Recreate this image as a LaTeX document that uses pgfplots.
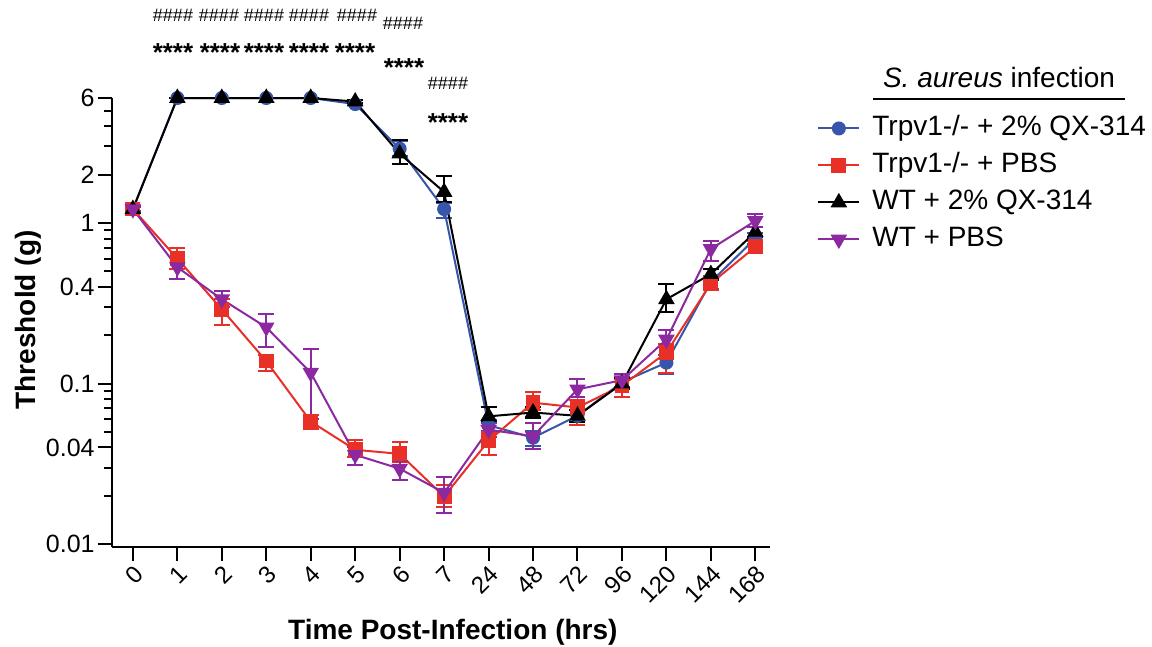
\documentclass[border=0pt]{standalone}
\usepackage{fontspec}
\setmainfont{Liberation Sans}
\usepackage{pgfplots}
\usepackage{pgfplotstable}
\pgfplotsset{compat=1.18}
\definecolor{cblue}{RGB}{55,85,170}
\definecolor{cred}{RGB}{232,48,38}
\definecolor{cpurple}{RGB}{140,40,160}

\pgfplotstableread{
x y ep em
0 1.22 0.05 0.05
1 6 0 0
2 6 0 0
3 6 0 0
4 6 0 0
5 5.5 0.1 0.1
6 2.9 0.35 0.3
7 1.22 0.12 0.15
8 0.055 0.004 0.004
9 0.046 0.005 0.005
10 0.063 0.005 0.005
11 0.102 0.008 0.008
12 0.135 0.015 0.02
13 0.43 0.04 0.04
14 0.80 0.06 0.06
}\tblue

\pgfplotstableread{
x y ep em
0 1.22 0.04 0.04
1 0.60 0.10 0.08
2 0.29 0.045 0.06
3 0.138 0.012 0.018
4 0.058 0.006 0.006
5 0.0387 0.006 0.004
6 0.0365 0.0065 0.004
7 0.0198 0.0036 0.0028
8 0.044 0.006 0.008
9 0.076 0.013 0.008
10 0.071 0.008 0.016
11 0.097 0.010 0.015
12 0.156 0.020 0.040
13 0.42 0.03 0.04
14 0.71 0.06 0.06
}\tred

\pgfplotstableread{
x y ep em
0 1.22 0.03 0.03
1 6 0 0
2 6 0 0
3 6 0 0
4 6 0 0
5 5.7 0.1 0.1
6 2.7 0.6 0.37
7 1.56 0.41 0.2
8 0.0625 0.0085 0.005
9 0.066 0.005 0.005
10 0.063 0.005 0.005
11 0.100 0.008 0.008
12 0.335 0.08 0.055
13 0.48 0.04 0.04
14 0.88 0.06 0.06
}\tblack

\pgfplotstableread{
x y ep em
0 1.22 0.03 0.03
1 0.53 0.08 0.08
2 0.335 0.04 0.035
3 0.224 0.046 0.056
4 0.117 0.046 0.057
5 0.036 0.004 0.005
6 0.0295 0.0035 0.0045
7 0.0209 0.0054 0.0053
8 0.0516 0.005 0.005
9 0.047 0.010 0.008
10 0.092 0.014 0.010
11 0.105 0.010 0.010
12 0.188 0.029 0.020
13 0.69 0.08 0.11
14 1.03 0.11 0.08
}\tpurple

\begin{document}
\begin{tikzpicture}
\path[use as bounding box] (0,0) rectangle (576pt,323.5pt);
\begin{axis}[
  at={(56pt,50pt)}, anchor=south west,
  scale only axis, width=329pt, height=224.5pt,
  ymode=log, ymin=0.0096, ymax=6,
  xmin=-0.47, xmax=14.33,
  axis x line*=bottom, axis y line*=left,
  axis line style={line width=1pt, -},
  tick align=outside,
  major tick length=7pt, minor tick length=4pt,
  every tick/.style={black, line width=1pt},
  xtick={0,...,14},
  xticklabels={0,1,2,3,4,5,6,7,24,48,72,96,120,144,168},
  x tick label style={rotate=45, anchor=north east, font=\fontsize{12}{13}\selectfont, inner sep=1pt},
  ytick={0.01,0.04,0.1,0.4,1,2,6},
  yticklabels={0.01,0.04,0.1,0.4,1,2,6},
  minor ytick={0.02,0.03,0.05,0.06,0.07,0.08,0.09,0.2,0.3,0.5,0.6,0.7,0.8,0.9,3,4,5},
  y tick label style={font=\fontsize{12.5}{14}\selectfont, inner xsep=1.5pt},
  xlabel={Time Post-Infection (hrs)},
  ylabel={Threshold (g)},
  label style={font=\bfseries\fontsize{14}{16}\selectfont},
  xlabel style={at={(axis description cs:0.518,-0.189)}, anchor=center},
  ylabel style={at={(axis description cs:-0.1277,0.5056)}, anchor=center},
  clip=false,
  legend cell align=left,
  legend style={at={(1.0714,0.962)}, anchor=north west, draw=none, fill=none,
    inner sep=0pt, font=\fontsize{14}{16}\selectfont, column sep=6pt,
    nodes={inner sep=0pt, text height=10pt, text depth=3pt}, row sep=5.5pt},
  legend image code/.code={\draw[mark repeat=2,mark phase=2,#1] plot coordinates {(0cm,0cm) (0.36cm,0cm) (0.72cm,0cm)};},
  error bars/y dir=both, error bars/y explicit,
  error bars/error mark options={rotate=90, mark size=4pt, line width=1pt},
]
\addplot[cblue, line width=1pt, mark=*, mark size=3pt, mark options={solid, fill=cblue},
  error bars/error bar style={line width=1pt, cblue}]
  table[x=x, y=y, y error plus=ep, y error minus=em]{\tblue};
\addlegendentry{Trpv1-/- + 2\% QX-314}
\addplot[cred, line width=1pt, mark=square*, mark size=3.2pt, mark options={solid, fill=cred},
  error bars/error bar style={line width=1pt, cred}]
  table[x=x, y=y, y error plus=ep, y error minus=em]{\tred};
\addlegendentry{Trpv1-/- + PBS}
\addplot[black, line width=1pt, mark=triangle*, mark size=3.8pt, mark options={solid, fill=black},
  error bars/error bar style={line width=1pt, black}]
  table[x=x, y=y, y error plus=ep, y error minus=em]{\tblack};
\addlegendentry{WT + 2\% QX-314}
\addplot[cpurple, line width=1pt, mark=triangle*, mark size=3.8pt, mark options={solid, fill=cpurple, rotate=180},
  error bars/error bar style={line width=1pt, cpurple}]
  table[x=x, y=y, y error plus=ep, y error minus=em]{\tpurple};
\addlegendentry{WT + PBS}
\end{axis}
% legend title
\node[anchor=base, font=\fontsize{14}{16}\selectfont] at (499.5pt,279.5pt) {\textit{S. aureus} infection};
\draw[line width=0.8pt] (436.5pt,273.85pt) -- (562.5pt,273.85pt);
% significance annotations
\begin{scope}[every node/.style={font=\fontsize{9}{10}\selectfont, inner sep=0pt}]
\node at (86.5pt,316pt) {\#\#\#\#};
\node at (109.5pt,316pt) {\#\#\#\#};
\node at (132pt,316pt) {\#\#\#\#};
\node at (154.5pt,316pt) {\#\#\#\#};
\node at (178.5pt,316pt) {\#\#\#\#};
\node at (201.5pt,312pt) {\#\#\#\#};
\node at (224pt,282pt) {\#\#\#\#};
\end{scope}
\begin{scope}[every node/.style={font=\bfseries\fontsize{13}{14}\selectfont, inner sep=0pt}]
\node at (86.5pt,297pt) {****};
\node at (110pt,297pt) {****};
\node at (132pt,297pt) {****};
\node at (154.5pt,297pt) {****};
\node at (177.5pt,297pt) {****};
\node at (202pt,289.5pt) {****};
\node at (224pt,262pt) {****};
\end{scope}
\end{tikzpicture}
\end{document}
